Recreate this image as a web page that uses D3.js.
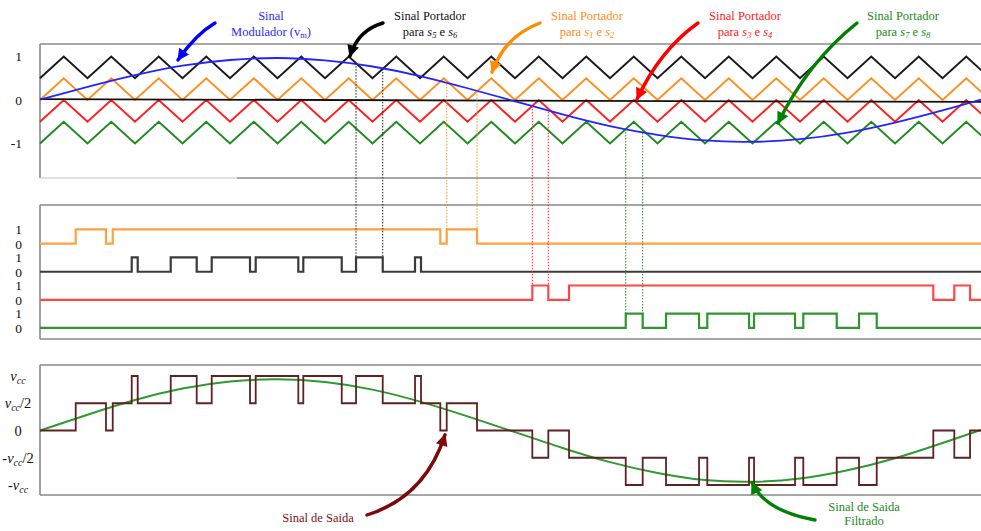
<!DOCTYPE html>
<html>
<head>
<meta charset="utf-8">
<script src="https://cdn.jsdelivr.net/npm/d3@7"></script>
<style>
  html, body { margin: 0; padding: 0; background: #fff; }
  svg { display: block; font-family: "Liberation Serif", "Times New Roman", serif; }
</style>
</head>
<body>
<svg id="chart" width="981" height="531"></svg>
<script>
// ---- time base: one unit = one carrier period ----
const timeSpan = [0, 19.81];

// turning points of every triangular carrier (trough, peak, trough, ...)
const carrierTurns = [0, 0.5, 1, 1.5, 2, 2.5, 3, 3.5, 4, 4.5, 5, 5.5, 6, 6.5, 7, 7.5, 8, 8.5, 9, 9.5,
  10, 10.5, 11, 11.5, 12, 12.5, 13, 13.5, 14, 14.5, 15, 15.5, 16, 16.5, 17, 17.5, 18, 18.5, 19, 19.5, 20];

// carriers, top to bottom (phase disposition)
const carrierKeys = ["s5s6", "s1s2", "s3s4", "s7s8"];
const carrierLow = [0.5, 0, -0.5, -1];
const carrierHigh = [1, 0.5, 0, -0.5];

// modulating signal v_m
const modTimes = [0, 1, 2, 3, 4, 5, 6, 7, 8, 9, 10, 11, 12, 13, 14, 15, 16, 17, 18, 19, 19.81];
const modValues = [0.01, 0.30, 0.57, 0.79, 0.92, 0.965, 0.91, 0.77, 0.55, 0.27, -0.03, -0.33, -0.60,
  -0.80, -0.93, -0.96, -0.90, -0.75, -0.52, -0.24, 0.01];

// reference line drawn through zero (start, end)
const zeroLineValues = [0.02, -0.045];
const topTicks = [1, 0, -1];

// gate signals: switching instants, each starts at 0
const switchS1S2 = [0.752, 1.389, 1.531, 8.427, 8.562, 9.200];
const switchS5S6 = [1.931, 2.057, 2.752, 3.299, 3.615, 4.421, 4.541, 5.438, 5.543, 6.352, 6.653, 7.215, 7.895, 8.021];
const switchS3S4 = [10.364, 10.701, 11.137, 18.806, 19.248, 19.579];
const switchS7S8 = [12.331, 12.688, 13.179, 13.874, 14.048, 14.926, 15.032, 15.895, 16.069, 16.773, 17.242, 17.615];
const gateRows = ["s1s2", "s5s6", "s3s4", "s7s8"];
const gateTicks = [1, 0];

// edges highlighted with dotted guides (index pairs in each gate list)
const guideEdges = { s5s6: [10, 11], s1s2: [4, 5], s3s4: [0, 1], s7s8: [0, 1] };

// output panel
const outputTicks = [1, 0.5, 0, -0.5, -1];
const filteredValues = [0, 0.29, 0.56, 0.77, 0.90, 0.94, 0.89, 0.75, 0.53, 0.26, -0.03, -0.32, -0.58,
  -0.78, -0.91, -0.94, -0.88, -0.73, -0.51, -0.23, 0.01];

// ---- styling ----
const serif = "'Liberation Serif', 'Times New Roman', serif";
const carrierColor = { s5s6: "#1a1a1a", s1s2: "#ff8f1f", s3s4: "#ff1f1f", s7s8: "#1f8a1f" };
const gateColor = { s5s6: "#3a3a3a", s1s2: "#ffa040", s3s4: "#ff4646", s7s8: "#2e962e" };
const gateSwitch = { s1s2: switchS1S2, s5s6: switchS5S6, s3s4: switchS3S4, s7s8: switchS7S8 };
const frameColor = "#8a8a8a";

const svg = d3.select("#chart");
svg.append("rect").attr("width", 981).attr("height", 531).attr("fill", "#fff");

const x = d3.scaleLinear().domain(timeSpan).range([40, 981]);
const yTop = d3.scaleLinear().domain([-1, 1]).range([143.5, 56.5]);
const yOut = d3.scaleLinear().domain([-1, 1]).range([485, 376]);
const rowBase = d3.scaleLinear().domain([0, 1]).range([243.7, 271.75]);
const rowScale = i => d3.scaleLinear().domain([0, 1]).range([rowBase(i), rowBase(i) - 14.3]);

// ---- frames ----
function frame(top, bottom, bottomStart) {
  const g = svg.append("g").attr("fill", "none").attr("stroke", frameColor).attr("stroke-width", 1.6);
  g.append("line").attr("x1", 40).attr("x2", 981).attr("y1", top).attr("y2", top);
  g.append("line").attr("x1", 40).attr("x2", 40).attr("y1", top).attr("y2", bottom);
  if (bottomStart > 40) {
    g.append("line").attr("x1", 40).attr("x2", bottomStart).attr("y1", bottom).attr("y2", bottom)
      .attr("stroke", "#c4c4c4").attr("stroke-width", 1.2);
  }
  g.append("line").attr("x1", bottomStart).attr("x2", 981).attr("y1", bottom).attr("y2", bottom);
}
frame(44, 178, 237);
frame(205, 339, 40);
frame(365, 495, 40);

// ---- panel 1: carriers and modulating signal ----
const carrierGroup = svg.append("g");
carrierKeys.forEach((k, i) => {
  const pts = carrierTurns.map((t, j) => [t, j % 2 === 0 ? carrierLow[i] : carrierHigh[i]]);
  carrierGroup.append("path")
    .attr("d", d3.line().x(d => x(d[0])).y(d => yTop(d[1]))(pts))
    .attr("fill", "none").attr("stroke", carrierColor[k]).attr("stroke-width", 2)
    .attr("stroke-linejoin", "miter");
});

svg.append("path")
  .attr("d", d3.line().x(d => x(d[0])).y(d => yTop(d[1]))([[timeSpan[0], zeroLineValues[0]], [timeSpan[1], zeroLineValues[1]]]))
  .attr("stroke", "#111").attr("stroke-width", 1.8).attr("fill", "none");

svg.append("path")
  .attr("d", d3.line().curve(d3.curveNatural).x(d => x(d[0])).y(d => yTop(d[1]))(modTimes.map((t, i) => [t, modValues[i]])))
  .attr("fill", "none").attr("stroke", "#2424ff").attr("stroke-width", 1.8);

const topAxis = svg.append("g").attr("transform", "translate(40,0)")
  .call(d3.axisLeft(yTop).tickValues(topTicks).tickSize(0).tickPadding(18).tickFormat(d => String(d)));
topAxis.select(".domain").remove();
topAxis.selectAll("text").attr("font-size", 13.5).attr("font-family", serif).attr("fill", "#111");

// ---- panel 2: gate signals ----
function stateAt(list, t) { return list.filter(s => s <= t).length % 2; }

gateRows.forEach((k, i) => {
  const ys = rowScale(i);
  const pts = [[timeSpan[0], 0]].concat(gateSwitch[k].map((t, j) => [t, (j + 1) % 2])).concat([[timeSpan[1], gateSwitch[k].length % 2]]);
  svg.append("path")
    .attr("d", d3.line().curve(d3.curveStepAfter).x(d => x(d[0])).y(d => ys(d[1]))(pts))
    .attr("fill", "none").attr("stroke", gateColor[k]).attr("stroke-width", 2.2);
  const ax = svg.append("g").attr("transform", "translate(40,0)")
    .call(d3.axisLeft(ys).tickValues(gateTicks).tickSize(0).tickPadding(18).tickFormat(d => String(d)));
  ax.select(".domain").remove();
  ax.selectAll("text").attr("font-size", 13.5).attr("font-family", serif).attr("fill", "#111");
});

// dotted guides from the carrier crossing down to the gate edge
carrierKeys.forEach((k, ci) => {
  const carrierAt = d3.scaleLinear().domain(carrierTurns)
    .range(carrierTurns.map((t, j) => j % 2 === 0 ? carrierLow[ci] : carrierHigh[ci]));
  const row = gateRows.indexOf(k);
  guideEdges[k].forEach(idx => {
    const t = gateSwitch[k][idx];
    svg.append("line")
      .attr("x1", x(t)).attr("x2", x(t))
      .attr("y1", yTop(carrierAt(t))).attr("y2", rowScale(row)(1))
      .attr("stroke", carrierColor[k]).attr("stroke-width", 1)
      .attr("stroke-dasharray", "1.5,1.5");
  });
});

// ---- panel 3: output voltage and filtered output ----
const allEdges = Array.from(new Set([].concat(switchS1S2, switchS5S6, switchS3S4, switchS7S8))).sort((a, b) => a - b);
const levelAt = t => (stateAt(switchS1S2, t) + stateAt(switchS5S6, t) - stateAt(switchS3S4, t) - stateAt(switchS7S8, t)) / 2;
const outPts = [[timeSpan[0], levelAt(timeSpan[0])]].concat(allEdges.map(t => [t, levelAt(t)])).concat([[timeSpan[1], levelAt(timeSpan[1])]]);

svg.append("path")
  .attr("d", d3.line().curve(d3.curveNatural).x(d => x(d[0])).y(d => yOut(d[1]))(modTimes.map((t, i) => [t, filteredValues[i]])))
  .attr("fill", "none").attr("stroke", "#2f9a2f").attr("stroke-width", 2);

svg.append("path")
  .attr("d", d3.line().curve(d3.curveStepAfter).x(d => x(d[0])).y(d => yOut(d[1]))(outPts))
  .attr("fill", "none").attr("stroke", "#5e2222").attr("stroke-width", 1.8);

const outAxis = svg.append("g").attr("transform", "translate(40,0)")
  .call(d3.axisLeft(yOut).tickValues(outputTicks).tickSize(0).tickPadding(22).tickFormat(() => ""));
outAxis.select(".domain").remove();
outAxis.selectAll(".tick text").each(function (d) {
  const t = d3.select(this).attr("text-anchor", "middle").attr("font-size", 14.5)
    .attr("font-family", serif).attr("fill", "#111");
  if (d === 0) { t.text("0"); return; }
  if (d < 0) t.append("tspan").text("-");
  t.append("tspan").attr("font-style", "italic").text("v");
  t.append("tspan").attr("font-style", "italic").attr("font-size", 10).attr("dy", 3).text("cc");
  if (Math.abs(d) === 0.5) t.append("tspan").attr("dy", -3).text("/2");
});

// ---- annotations ----
const defs = svg.append("defs");
function marker(id, color) {
  defs.append("marker").attr("id", id).attr("viewBox", "0 0 10 10")
    .attr("refX", 9).attr("refY", 5).attr("markerWidth", 14).attr("markerHeight", 12)
    .attr("markerUnits", "userSpaceOnUse").attr("orient", "auto")
    .append("path").attr("d", "M0,0 L10,5 L0,10 Z").attr("fill", color);
}
function arrow(id, color, tail, ctrl, tip) {
  marker(id, color);
  const p = d3.path();
  p.moveTo(tail[0], tail[1]);
  p.quadraticCurveTo(ctrl[0], ctrl[1], tip[0], tip[1]);
  svg.append("path").attr("d", p.toString()).attr("fill", "none").attr("stroke", color)
    .attr("stroke-width", 3.4).attr("stroke-linecap", "round").attr("marker-end", `url(#${id})`);
}
function label(cx, y, color, parts) {
  const t = svg.append("text").attr("x", cx).attr("y", y).attr("text-anchor", "middle")
    .attr("font-family", serif).attr("font-size", 12.5).attr("fill", color);
  parts.forEach(p => {
    const s = t.append("tspan").text(p.text);
    if (p.italic) s.attr("font-style", "italic");
    if (p.sub) s.attr("font-size", 8.5).attr("dy", p.dy);
    else if (p.dy) s.attr("dy", p.dy);
  });
  return t;
}
function portador(cx, color, a, b) {
  label(cx, 20, color, [{ text: "Sinal Portador" }]);
  label(cx, 36, color, [
    { text: "para " }, { text: "s", italic: true }, { text: a, italic: true, sub: true, dy: 2 },
    { text: " e ", dy: -2 }, { text: "s", italic: true }, { text: b, italic: true, sub: true, dy: 2 }
  ]);
}

label(271, 20, "#2a2aff", [{ text: "Sinal" }]);
label(271, 36, "#2a2aff", [{ text: "Modulador (v" }, { text: "m", sub: true, dy: 2 }, { text: ")", dy: -2 }]);
portador(430, "#111", "5", "6");
portador(587, "#ff8c1a", "1", "2");
portador(745, "#ff1a1a", "3", "4");
portador(903, "#1a8a1a", "7", "8");

arrow("mBlue", "#0000ff", [215, 23], [196, 34], [x(2.905), yTop(0.92)]);
arrow("mBlack", "#000", [383, 23], [358, 30], [x(6.526), yTop(1.01)]);
arrow("mOrange", "#ff8c00", [540, 23], [505, 36], [x(9.516), yTop(0.64)]);
arrow("mRed", "#ff0000", [698, 23], [660, 50], [x(12.568), yTop(0.02)]);
arrow("mGreen", "#008000", [857, 23], [808, 62], [x(15.537), yTop(-0.53)]);

label(318, 522, "#7a1010", [{ text: "Sinal de Saida" }]);
label(864, 511, "#1a8a1a", [{ text: "Sinal de Saida" }]);
label(864, 525, "#1a8a1a", [{ text: "Filtrado" }]);
arrow("mSaida", "#7b0a0a", [367, 515], [425, 497], [x(8.526), yOut(-0.08)]);
arrow("mFiltro", "#008000", [815, 520], [765, 511], [x(14.99), yOut(-0.96)]);
</script>
</body>
</html>
